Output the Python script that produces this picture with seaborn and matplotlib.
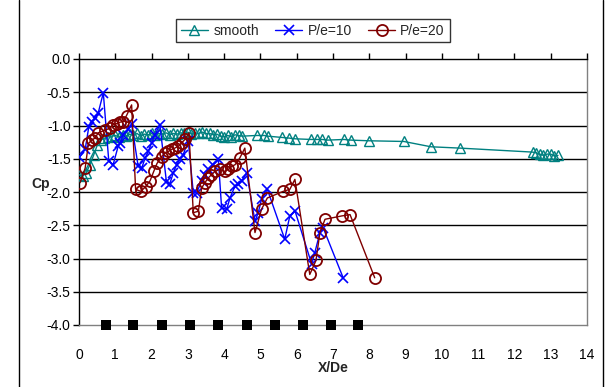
import matplotlib
matplotlib.use("Agg")
import matplotlib.pyplot as plt
from matplotlib.lines import Line2D
import seaborn as sns
import pandas as pd

# Smooth duct
smooth_x = [0.0, 0.1, 0.2, 0.3, 0.4, 0.5, 0.6, 0.7, 0.8, 0.9, 1.0, 1.1, 1.2, 1.3, 1.4,
            1.5, 1.6, 1.7, 1.8, 1.9, 2.0, 2.1, 2.2, 2.3, 2.4, 2.5, 2.6, 2.7, 2.8, 2.9,
            3.0, 3.1, 3.2, 3.3, 3.4, 3.5, 3.6, 3.7, 3.8, 3.9, 4.0, 4.1, 4.2, 4.3, 4.4,
            4.5, 4.9, 5.1, 5.2, 5.6, 5.8, 5.95, 6.4, 6.55, 6.7, 6.85, 7.3, 7.5, 8.0,
            8.95, 9.7, 10.5, 12.5, 12.6, 12.7, 12.8, 12.9, 13.0, 13.1, 13.2]
smooth_cp = [-1.74, -1.76, -1.71, -1.59, -1.45, -1.30, -1.22, -1.19, -1.17, -1.16,
             -1.15, -1.17, -1.14, -1.16, -1.13, -1.15, -1.12, -1.16, -1.13, -1.14,
             -1.12, -1.15, -1.12, -1.13, -1.11, -1.14, -1.12, -1.13, -1.11, -1.12,
             -1.10, -1.13, -1.11, -1.12, -1.10, -1.12, -1.12, -1.14, -1.13, -1.16,
             -1.17, -1.15, -1.17, -1.14, -1.15, -1.16, -1.15, -1.15, -1.16, -1.18,
             -1.19, -1.20, -1.21, -1.21, -1.21, -1.22, -1.21, -1.22, -1.23, -1.24,
             -1.32, -1.34, -1.40, -1.41, -1.43, -1.45, -1.43, -1.43, -1.46, -1.45]

# Ribbed duct, P/e = 10
p10_x = [0.01, 0.17, 0.27, 0.36, 0.45, 0.53, 0.67, 0.82, 0.94, 1.08, 1.13, 1.22,
         1.36, 1.45, 1.63, 1.73, 1.82, 1.91, 2.0, 2.09, 2.23, 2.41, 2.5, 2.6, 2.69,
         2.78, 2.87, 3.01, 3.15, 3.24, 3.38, 3.47, 3.56, 3.7, 3.84, 3.93, 4.07,
         4.16, 4.3, 4.39, 4.48, 4.62, 4.85, 4.94, 5.03, 5.19, 5.67, 5.81, 5.95,
         6.41, 6.5, 6.64, 6.73, 7.28]
p10_cp = [-1.48, -1.36, -1.02, -0.94, -0.88, -0.81, -0.51, -1.53, -1.59, -1.31,
          -1.26, -1.14, -1.06, -0.98, -1.61, -1.64, -1.49, -1.39, -1.26, -1.14,
          -0.99, -1.85, -1.88, -1.71, -1.59, -1.51, -1.44, -1.23, -2.01, -2.01,
          -1.84, -1.74, -1.66, -1.59, -1.51, -2.24, -2.26, -2.09, -1.91, -1.88,
          -1.84, -1.71, -2.44, -2.31, -2.11, -1.96, -2.71, -2.36, -2.28, -3.08,
          -2.91, -2.61, -2.54, -3.29]

# Ribbed duct, P/e = 20
p20_x = [0.03, 0.17, 0.26, 0.35, 0.44, 0.53, 0.72, 0.85, 0.94, 1.04, 1.13, 1.22,
         1.31, 1.45, 1.56, 1.70, 1.84, 1.96, 2.06, 2.15, 2.28, 2.37, 2.46, 2.55,
         2.64, 2.74, 2.83, 2.92, 3.03, 3.15, 3.29, 3.38, 3.47, 3.56, 3.65, 3.75,
         3.88, 4.02, 4.12, 4.22, 4.3, 4.43, 4.57, 4.85, 5.03, 5.19, 5.63, 5.81,
         5.95, 6.36, 6.53, 6.64, 6.78, 7.24, 7.47, 8.15]
p20_cp = [-1.86, -1.64, -1.27, -1.22, -1.19, -1.11, -1.07, -1.04, -0.99, -0.97,
          -0.95, -0.94, -0.85, -0.69, -1.96, -1.99, -1.92, -1.83, -1.69, -1.57,
          -1.47, -1.41, -1.39, -1.36, -1.34, -1.31, -1.26, -1.21, -1.11, -2.31,
          -2.29, -1.94, -1.86, -1.79, -1.74, -1.69, -1.66, -1.69, -1.66, -1.61,
          -1.59, -1.49, -1.34, -2.61, -2.26, -2.09, -1.99, -1.96, -1.81, -3.24,
          -3.03, -2.61, -2.41, -2.36, -2.34, -3.29]

# Rib locations along the wall
rib_x = [0.75, 1.5, 2.28, 3.05, 3.84, 4.62, 5.39, 6.16, 6.94, 7.70]
rib_cp = [-4.0] * len(rib_x)

x_ticks = list(range(0, 15))
y_ticks = [0.0, -0.5, -1.0, -1.5, -2.0, -2.5, -3.0, -3.5, -4.0]

sns.set_theme(style="white")
plt.rcParams["font.family"] = ["Liberation Sans", "DejaVu Sans"]

fig = plt.figure(figsize=(6.09, 3.87), dpi=100)
ax = fig.add_axes([79 / 609, 1 - 325 / 387, 508 / 609, 266 / 387])

series = [
    ("smooth", smooth_x, smooth_cp, "#008080", "^", 6.5, 1.0),
    ("P/e=10", p10_x, p10_cp, "#0000FF", "x", 7.0, 1.2),
    ("P/e=20", p20_x, p20_cp, "#800000", "o", 8.0, 1.3),
]
for name, xs, ys, col, mk, ms, mew in series:
    df = pd.DataFrame({"x": xs, "cp": ys})
    if mk == "x":
        sns.lineplot(data=df, x="x", y="cp", ax=ax, sort=False, estimator=None,
                     color=col, lw=1.0, marker=mk, markersize=ms,
                     markeredgecolor=col, markeredgewidth=mew, label=name, zorder=3)
    else:
        sns.lineplot(data=df, x="x", y="cp", ax=ax, sort=False, estimator=None,
                     color=col, lw=1.0, marker=mk, markersize=ms,
                     markerfacecolor="none", markeredgecolor=col,
                     markeredgewidth=mew, label=name, zorder=3)

rib_df = pd.DataFrame({"x": rib_x, "cp": rib_cp})
sns.scatterplot(data=rib_df, x="x", y="cp", ax=ax, marker="s", s=55,
                color="black", edgecolor="black", linewidth=0, clip_on=False,
                zorder=4, legend=False)

ax.set_xlim(0, 14)
ax.set_ylim(-4.0, 0.0)
ax.set_xticks(x_ticks)
ax.set_xticklabels([str(t) for t in x_ticks])
ax.set_yticks(y_ticks)
ax.set_yticklabels([f"{t:.1f}" for t in y_ticks])

for y in y_ticks[1:-1]:
    ax.axhline(y, color="black", lw=1.0, zorder=1)

ax.spines["left"].set_color("black")
ax.spines["top"].set_color("black")
ax.spines["right"].set_color("#808080")
ax.spines["bottom"].set_color("#808080")
for s in ax.spines.values():
    s.set_linewidth(1.0)

ax.tick_params(axis="y", left=True, length=4, width=1, color="black",
               labelsize=10, pad=2, labelcolor="black")
ax.tick_params(axis="x", top=True, bottom=False, direction="out", length=4,
               width=1, color="black", labelsize=10, labelbottom=True,
               labeltop=False, pad=12.5, labelcolor="black")

ax.set_xlabel("X/De", fontsize=10, fontweight="bold", labelpad=-1)
ax.set_ylabel("Cp", fontsize=10, fontweight="bold", rotation=0, labelpad=14,
              va="center")
ax.yaxis.set_label_coords(-0.075, 0.53)

ax.get_legend().remove()
handles, labels = ax.get_legend_handles_labels()
leg = fig.legend(handles, labels, loc="center", bbox_to_anchor=(0.514, 0.921),
                 ncol=3, frameon=True, fancybox=False, fontsize=10,
                 handlelength=1.9, columnspacing=1.2, handletextpad=0.4,
                 borderpad=0.35)
leg.get_frame().set_edgecolor("black")
leg.get_frame().set_linewidth(1.0)

# Chart-area border lines on both sides
fig.add_artist(Line2D([19 / 609, 19 / 609], [0, 1], color="black", lw=1.0,
                      transform=fig.transFigure))
fig.add_artist(Line2D([603 / 609, 603 / 609], [0, 1], color="black", lw=1.0,
                      transform=fig.transFigure))

fig.savefig("out.png", dpi=100)
